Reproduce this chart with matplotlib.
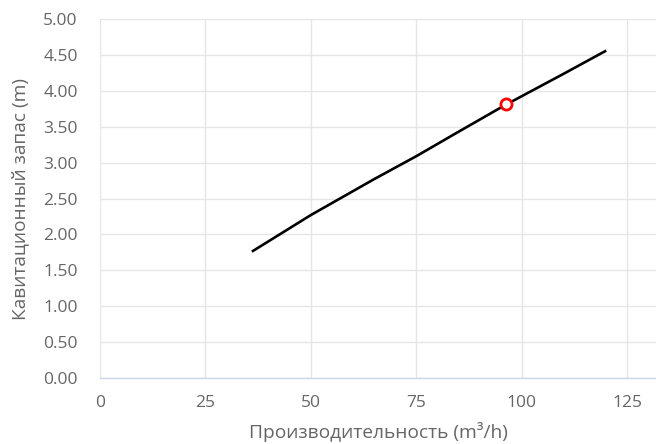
import numpy as np
import matplotlib
matplotlib.use('Agg')
import matplotlib.pyplot as plt

# curve
flow = [36, 50, 65, 75, 85, 96, 110, 120]
npsh = [1.76, 2.27, 2.77, 3.09, 3.43, 3.80, 4.24, 4.56]
# duty point
duty_q = [96.3]
duty_h = [3.81]

x_ticks = [0, 25, 50, 75, 100, 125]
y_ticks = [0, 0.5, 1, 1.5, 2, 2.5, 3, 3.5, 4, 4.5, 5]

plt.rcParams['font.family'] = ['Open Sans', 'DejaVu Sans']

fig = plt.figure(figsize=(6.56, 4.44), dpi=100)
ax = fig.add_axes([100/656, 1-378/444, 556/656, 359/444])

ax.plot(flow, npsh, color='black', lw=1.9, solid_capstyle='butt', zorder=3)
ax.plot(duty_q, duty_h, 'o', ms=8.0, mfc='white', mec='#ff0000', mew=2.0, zorder=4)

ax.set_xlim(0, 131.8)
ax.set_ylim(0, 5)
ax.set_xticks(x_ticks)
ax.set_yticks(y_ticks)
ax.set_yticklabels(['%.2f' % v for v in y_ticks])
ax.grid(True, color='#e6e6e6', lw=1)
ax.set_axisbelow(True)
for s in ['top', 'right', 'left']:
    ax.spines[s].set_visible(False)
ax.spines['bottom'].set_color('#ccd6eb')
ax.spines['bottom'].set_linewidth(1)
ax.tick_params(axis='both', length=0, colors='#666666', labelsize=12.5)
ax.tick_params(axis='y', pad=16)
ax.tick_params(axis='x', pad=12)

ax.set_xlabel('Производительность (m³/h)', color='#666666', fontsize=13.8, labelpad=8)
ax.set_ylabel('Кавитационный запас (m)', color='#666666', fontsize=13.8, labelpad=10)

fig.savefig('out.png', dpi=100)
